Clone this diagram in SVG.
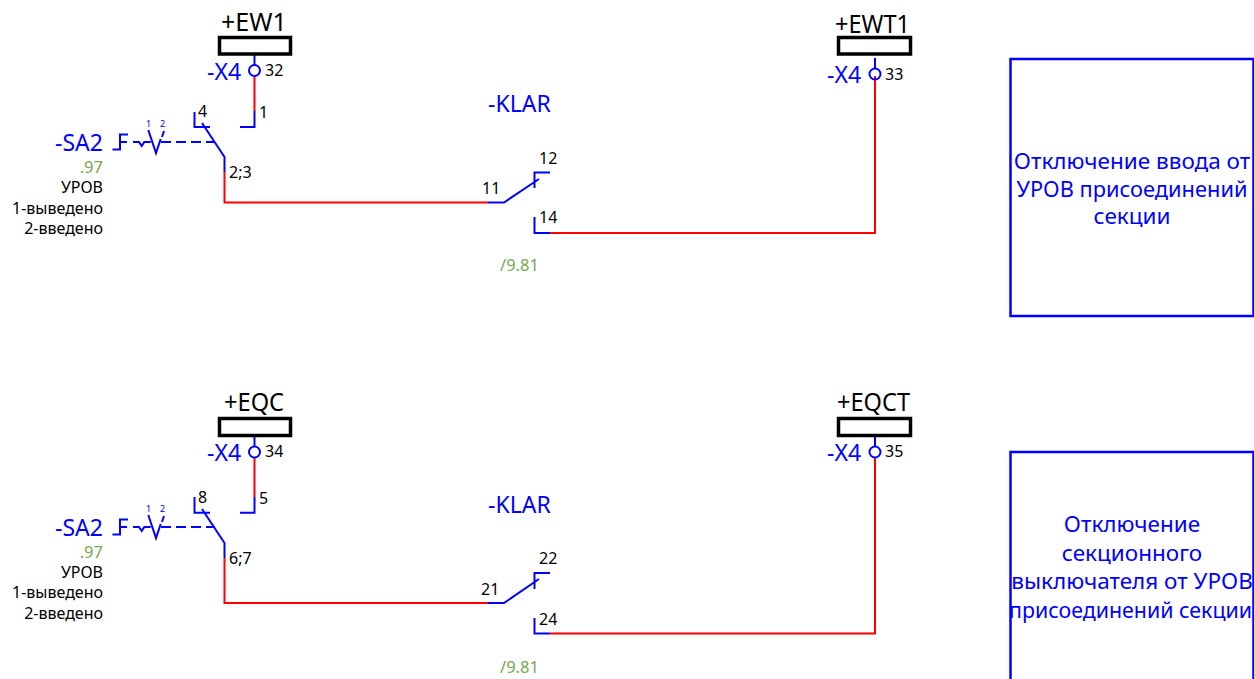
<svg xmlns="http://www.w3.org/2000/svg" width="1254" height="679" viewBox="0 0 1254 679">
<style>
text{font-family:"Noto Sans","DejaVu Sans",sans-serif}
.b{fill:none;stroke:#0000ff;stroke-width:2}
.r{fill:none;stroke:#ff0000;stroke-width:2}
.d{fill:none;stroke:#0000ff;stroke-width:2;stroke-dasharray:10 5}
.k{fill:#fff;stroke:#000;stroke-width:3.500}
.f{fill:none;stroke:#0000ff;stroke-width:2}
.t{fill:#000;font-size:16px}
.s{fill:#000;font-size:16px;text-anchor:end}
.g{fill:#76a84f;font-size:16.500px}
.bl{fill:#0000ff;font-size:23px}
.bk{fill:#000;font-size:25px}
.m{fill:#0000ff;font-size:9px}
.c{fill:#0000ff;font-size:22.500px;text-anchor:middle}
</style>
<g id="connectors">
<path class="r" d="M254.5 76V111M224.5 172V202.5H488M550 233H875V76"/>
<path class="b" d="M254.5 55V65M254.5 111V127H240M194.5 112V127H210M202 123L224.5 157V172M488 202.5H504L539 179M534.5 188V172.500H550M534.500 217V233H550"/>
<path class="b" d="M112.500 149.500H120V134.500H128M120 142H127M133 142H139L141.700 146L144.300 142H150.700M148.300 130L156 153L160.700 139M164 131L162 137"/>
<path class="d" d="M161 142H215"/>
<path class="r" d="M254.500 457V497M224.500 558V603H488M550 633.500H875V457"/>
<path class="b" d="M254.500 437V446M254.500 497V512.700H240M194.500 497V512.700H210M202 509L224.500 543V558M488 603H504L539 579M534.500 589V573H550M534.500 618V633.500H550"/>
<path class="b" d="M112.500 534.500H120V519.500H128M120 527H127M133 527H139L141.700 531L144.300 527H150.700M148.300 515L156 538L160.700 524M164 516L162 522"/>
<path class="d" d="M161 527H215"/>
<path class="b" d="M875 58V68M875 437V446"/>
</g>
<g id="EW1"><rect class="k" x="219.500" y="37.500" width="71" height="16.500"/><circle class="f" cx="254.500" cy="70.500" r="5.500"/>
<text class="bk" x="221" y="31">+EW1</text><text class="bl" x="207" y="80">-X4</text><text class="t" x="265" y="76">32</text></g>
<g id="EWT1"><rect class="k" x="838.500" y="37.500" width="72" height="16.500"/><circle class="f" cx="875" cy="74" r="5.500"/>
<text class="bk" x="835" y="33" textLength="75" lengthAdjust="spacingAndGlyphs">+EWT1</text><text class="bl" x="827" y="83">-X4</text><text class="t" x="885" y="80">33</text></g>
<g id="EQC"><rect class="k" x="219.500" y="418.500" width="71" height="17"/><circle class="f" cx="254.500" cy="452" r="5.500"/>
<text class="bk" x="224" y="411" textLength="60" lengthAdjust="spacingAndGlyphs">+EQC</text><text class="bl" x="207" y="461">-X4</text><text class="t" x="265" y="457">34</text></g>
<g id="EQCT"><rect class="k" x="838.500" y="418.500" width="72" height="17"/><circle class="f" cx="875" cy="452" r="5.500"/>
<text class="bk" x="837" y="411" textLength="73" lengthAdjust="spacingAndGlyphs">+EQCT</text><text class="bl" x="827" y="461">-X4</text><text class="t" x="885" y="457">35</text></g>
<g id="SA2-top"><text class="bl" x="55" y="151">-SA2</text><text class="m" x="146" y="127">1</text><text class="m" x="160" y="127">2</text>
<text class="t" x="198" y="117">4</text><text class="t" x="259" y="118">1</text><text class="t" x="229" y="178">2;3</text>
<text class="g" x="103" y="173" text-anchor="end">.97</text><text class="s" x="103" y="193">УРОВ</text><text class="s" x="103" y="214">1-выведено</text><text class="s" x="103" y="234">2-введено</text></g>
<g id="SA2-bottom"><text class="bl" x="55" y="536">-SA2</text><text class="m" x="146" y="512">1</text><text class="m" x="160" y="512">2</text>
<text class="t" x="198" y="503">8</text><text class="t" x="259" y="504">5</text><text class="t" x="229" y="564">6;7</text>
<text class="g" x="103" y="558" text-anchor="end">.97</text><text class="s" x="103" y="578">УРОВ</text><text class="s" x="103" y="598">1-выведено</text><text class="s" x="103" y="619">2-введено</text></g>
<g id="KLAR-top"><text class="bl" x="488" y="112">-KLAR</text><text class="t" x="482" y="194">11</text><text class="t" x="539" y="164">12</text><text class="t" x="539" y="223">14</text><text class="g" x="500" y="271">/9.81</text></g>
<g id="KLAR-bottom"><text class="bl" x="488" y="513">-KLAR</text><text class="t" x="481" y="595">21</text><text class="t" x="539" y="564">22</text><text class="t" x="539" y="625">24</text><text class="g" x="500" y="673">/9.81</text></g>
<g id="box-top"><rect x="1010.500" y="59" width="243" height="257" fill="none" stroke="#0000ff" stroke-width="2.500"/>
<text class="c" x="1132" y="169">Отключение ввода от</text><text class="c" x="1132" y="197" textLength="231" lengthAdjust="spacingAndGlyphs">УРОВ присоединений</text><text class="c" x="1132" y="224">секции</text></g>
<g id="box-bottom"><rect x="1010.500" y="452" width="243" height="230" fill="none" stroke="#0000ff" stroke-width="2.500"/>
<text class="c" x="1132" y="532">Отключение</text><text class="c" x="1132" y="561">секционного</text><text class="c" x="1132" y="589">выключателя от УРОВ</text><text class="c" x="1130.500" y="618" textLength="243" lengthAdjust="spacingAndGlyphs">присоединений секции</text></g>
</svg>
